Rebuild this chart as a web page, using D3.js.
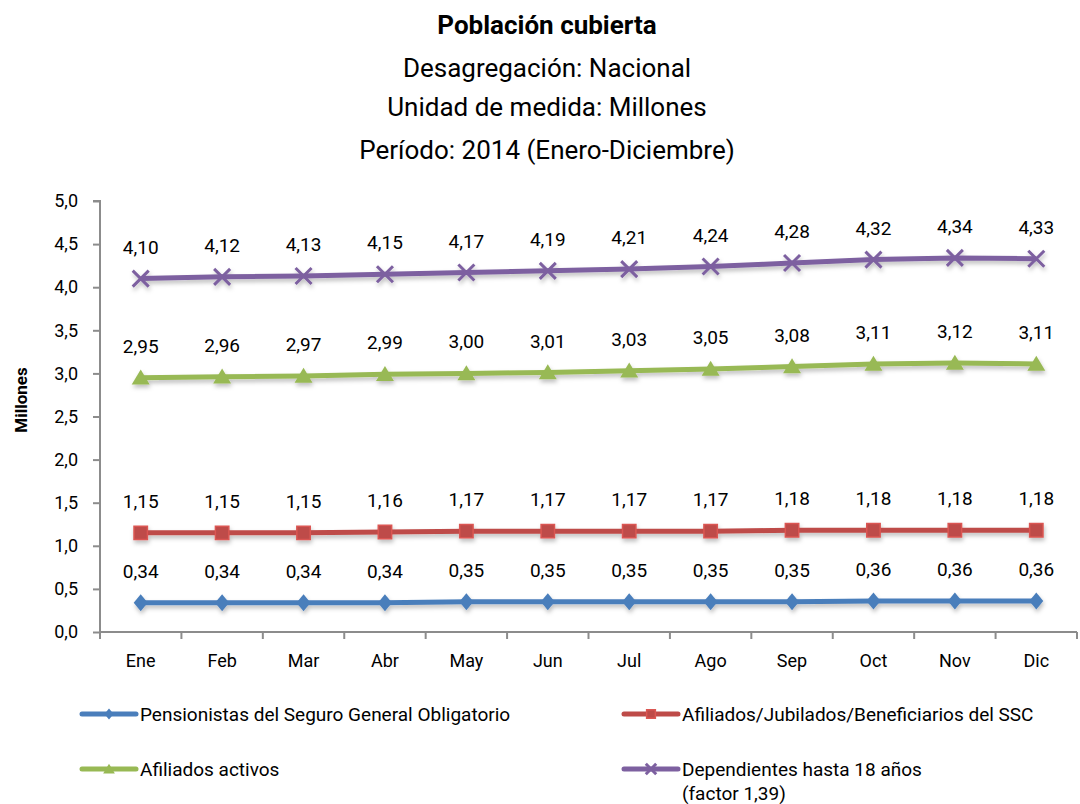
<!DOCTYPE html>
<html>
<head>
<meta charset="utf-8">
<script src="https://cdn.jsdelivr.net/npm/d3@7"></script>
<style>
  body { margin: 0; background: #fff; }
  svg text { font-family: Roboto, "Liberation Sans", sans-serif; fill: #000; }
</style>
</head>
<body>
<svg id="chart-svg" width="1080" height="804"></svg>
<script>
const months = ["Ene","Feb","Mar","Abr","May","Jun","Jul","Ago","Sep","Oct","Nov","Dic"];
const pensionistas = [0.34,0.34,0.34,0.34,0.35,0.35,0.35,0.35,0.35,0.36,0.36,0.36];
const afiliadosSSC = [1.15,1.15,1.15,1.16,1.17,1.17,1.17,1.17,1.18,1.18,1.18,1.18];
const activos = [2.95,2.96,2.97,2.99,3.00,3.01,3.03,3.05,3.08,3.11,3.12,3.11];
const dependientes = [4.10,4.12,4.13,4.15,4.17,4.19,4.21,4.24,4.28,4.32,4.34,4.33];
const yTicks = [0,0.5,1,1.5,2,2.5,3,3.5,4,4.5,5];

const series = [
  { name: "Pensionistas del Seguro General Obligatorio", values: pensionistas, color: "#4a7ebb", marker: "diamond" },
  { name: "Afiliados/Jubilados/Beneficiarios del SSC", values: afiliadosSSC, color: "#be4b48", marker: "square" },
  { name: "Afiliados activos", values: activos, color: "#98b954", marker: "triangle" },
  { name: "Dependientes hasta 18 años", values: dependientes, color: "#7d60a0", marker: "x" }
];

const fmt = v => d3.format(".2f")(v).replace(".", ",");
const fmt1 = v => d3.format(".1f")(v).replace(".", ",");

const svg = d3.select("#chart-svg");
const margin = { left: 100, right: 3, top: 201, bottom: 172 };
const width = 1080 - margin.left - margin.right;
const height = 804 - margin.top - margin.bottom;

const defs = svg.append("defs");
const f = defs.append("filter").attr("id", "shadow").attr("x", "-50%").attr("y", "-50%").attr("width", "200%").attr("height", "200%");
f.append("feDropShadow").attr("dx", 1).attr("dy", 3).attr("stdDeviation", 2).attr("flood-color", "#000").attr("flood-opacity", 0.25);

// titles
const titles = [
  { t: "Población cubierta", y: 34, w: "bold" },
  { t: "Desagregación: Nacional", y: 77, w: "normal" },
  { t: "Unidad de medida: Millones", y: 116, w: "normal" },
  { t: "Período: 2014 (Enero-Diciembre)", y: 159, w: "normal" }
];
svg.selectAll(".title").data(titles).enter().append("text")
  .attr("x", 547).attr("y", d => d.y)
  .attr("text-anchor", "middle")
  .style("font-size", "26px")
  .style("font-weight", d => d.w)
  .text(d => d.t);

const g = svg.append("g").attr("transform", "translate(" + margin.left + "," + margin.top + ")");

const x = d3.scaleBand().domain(months).range([0, width]);
const y = d3.scaleLinear().domain([0, 5]).range([height, 0]);

// y axis
const yAxis = g.append("g").call(d3.axisLeft(y).tickValues(yTicks).tickFormat(fmt1).tickSize(7).tickPadding(15));
yAxis.selectAll("text").style("font-size", "18px");
yAxis.selectAll("line, path").attr("stroke", "#8c8c8c").attr("stroke-width", 2);
yAxis.select(".domain").attr("d", "M0," + height + "V0H-7");

// x axis: ticks at category boundaries
const xAxis = g.append("g").attr("transform", "translate(0," + height + ")")
  .call(d3.axisBottom(x).tickSize(0).tickPadding(22));
xAxis.selectAll("text").style("font-size", "18px");
xAxis.select(".domain").attr("stroke", "#8c8c8c").attr("stroke-width", 2).attr("d", "M0,0H" + width);
g.append("g").selectAll("line").data(months).enter().append("line")
  .attr("x1", d => x(d)).attr("x2", d => x(d))
  .attr("y1", height).attr("y2", height + 7)
  .attr("stroke", "#8c8c8c").attr("stroke-width", 2);
g.append("line").attr("x1", width).attr("x2", width).attr("y1", height).attr("y2", height + 7)
  .attr("stroke", "#8c8c8c").attr("stroke-width", 2);

// y title
svg.append("text")
  .attr("transform", "translate(27,400) rotate(-90)")
  .attr("text-anchor", "middle")
  .style("font-size", "17px").style("font-weight", "bold")
  .text("Millones");

const cx = d => x(d) + x.bandwidth() / 2;
const line = d3.line().x((v, i) => cx(months[i])).y(v => y(v));

function drawMarker(sel, type, color, k) {
  if (type === "diamond") {
    const w = 7 * k, h = 8.5 * k;
    sel.append("path").attr("d", "M0," + (-h) + "L" + w + ",0L0," + h + "L" + (-w) + ",0Z").attr("fill", color);
  } else if (type === "square") {
    sel.append("path").attr("d", d3.symbol(d3.symbolSquare, 180 * k * k)()).attr("fill", color)
      .attr("stroke", d3.color(color).brighter(0.4)).attr("stroke-width", 1.5);
  } else if (type === "triangle") {
    const w = 9 * k, h = 15 * k;
    sel.append("path").attr("d", "M0," + (-h * 0.55) + "L" + w + "," + (h * 0.45) + "L" + (-w) + "," + (h * 0.45) + "Z")
      .attr("fill", color);
  } else {
    const r = 8 * k;
    sel.append("path").attr("d", "M" + (-r) + "," + (-r) + "L" + r + "," + r + "M" + (-r) + "," + r + "L" + r + "," + (-r))
      .attr("fill", "none").attr("stroke", color).attr("stroke-width", 3);
  }
}

series.forEach(s => {
  const sg = g.append("g").attr("filter", "url(#shadow)");
  sg.append("path").datum(s.values)
    .attr("fill", "none").attr("stroke", s.color).attr("stroke-width", 5)
    .attr("d", line);
  s.values.forEach((v, i) => {
    const m = sg.append("g").attr("transform", "translate(" + cx(months[i]) + "," + y(v) + ")");
    drawMarker(m, s.marker, s.color, 1);
  });
  g.append("g").selectAll("text").data(s.values).enter().append("text")
    .attr("x", (v, i) => cx(months[i]))
    .attr("y", v => y(v) - 25)
    .attr("text-anchor", "middle")
    .style("font-size", "19px")
    .text(fmt);
});

// legend
const legendPos = [
  { x: 80, y: 714 }, { x: 622, y: 714 }, { x: 80, y: 769 }, { x: 622, y: 769 }
];
series.forEach((s, i) => {
  const p = legendPos[i];
  const lg = svg.append("g").attr("transform", "translate(" + p.x + "," + p.y + ")");
  lg.append("line").attr("x1", 2).attr("x2", 56).attr("y1", 0).attr("y2", 0)
    .attr("stroke", s.color).attr("stroke-width", 5).attr("stroke-linecap", "round");
  const m = lg.append("g").attr("transform", "translate(29,0)");
  drawMarker(m, s.marker, s.color, 0.65);
  lg.append("text").attr("x", 60).attr("y", 7).style("font-size", "19px").text(s.name);
  if (i === 3) {
    lg.append("text").attr("x", 60).attr("y", 31).style("font-size", "19px").text("(factor 1,39)");
  }
});
</script>
</body>
</html>
